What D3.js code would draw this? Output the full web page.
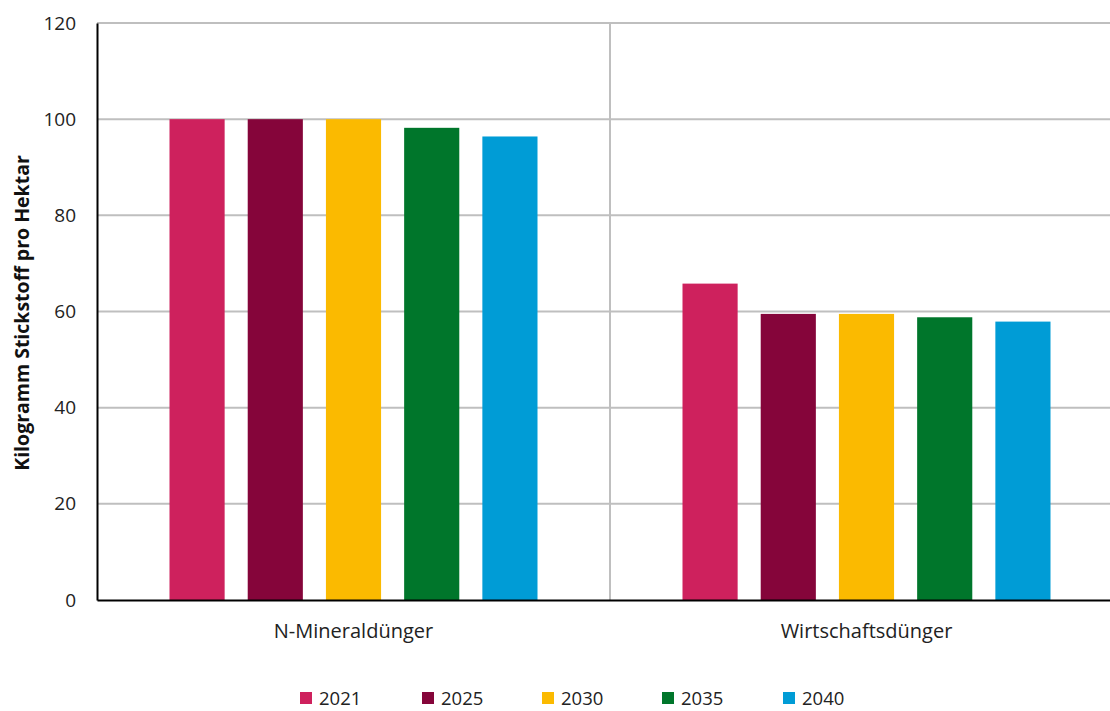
<!DOCTYPE html>
<html><head><meta charset="utf-8">
<script src="https://cdn.jsdelivr.net/npm/d3@7"></script>
<style>body{margin:0;background:#fff;} svg{display:block;font-family:"Open Sans","Noto Sans",sans-serif;}</style>
</head><body><svg id="c" width="1110" height="711"></svg>
<script>
const categories = ["N-Mineraldünger", "Wirtschaftsdünger"];
const years = ["2021", "2025", "2030", "2035", "2040"];
const values2021 = [100, 65.8];
const values2025 = [100, 59.5];
const values2030 = [100, 59.5];
const values2035 = [98.2, 58.8];
const values2040 = [96.4, 57.9];
const yTicks = [0, 20, 40, 60, 80, 100, 120];
const colors = ["#CE215D", "#85053A", "#FBBA00", "#00762B", "#009CD6"];
const yLabel = "Kilogramm Stickstoff  pro Hektar";

const seriesValues = [values2021, values2025, values2030, values2035, values2040];
const svg = d3.select("#c");
const m = {l: 97, t: 23, r: 1123, b: 600};
const x0 = d3.scaleBand().domain(categories).range([m.l, m.r]).paddingInner(0).paddingOuter(0);
const x1 = d3.scaleBand().domain(years).range([72.5, 440.5]).paddingInner(0.295).paddingOuter(0);
const y = d3.scaleLinear().domain([0, 120]).range([m.b, m.t]);

// gridlines
svg.append("g").selectAll("line").data(yTicks.filter(d => d > 0)).join("line")
  .attr("x1", m.l).attr("x2", m.r).attr("y1", d => y(d)).attr("y2", d => y(d))
  .attr("stroke", "#BFBFBF").attr("stroke-width", 2);
// category separator
svg.append("line").attr("x1", x0.range()[0] + x0.bandwidth()).attr("x2", x0.range()[0] + x0.bandwidth())
  .attr("y1", y(120)).attr("y2", y(0)).attr("stroke", "#BFBFBF").attr("stroke-width", 2);

// bars
const g = svg.append("g");
categories.forEach((c, ci) => {
  years.forEach((yr, si) => {
    const v = seriesValues[si][ci];
    g.append("rect").attr("x", x0(c) + x1(yr)).attr("width", x1.bandwidth())
      .attr("y", y(v)).attr("height", y(0) - y(v)).attr("fill", colors[si]);
  });
});

// axes
const yAxis = d3.axisLeft(y).tickValues(yTicks).tickSize(0).tickPadding(21);
const ya = svg.append("g").attr("transform", `translate(${m.l},0)`).call(yAxis);
ya.select(".domain").attr("stroke", "#000").attr("stroke-width", 2);
ya.selectAll("text").attr("font-size", 19).attr("fill", "#222").attr("font-family", "Open Sans");

const xAxis = d3.axisBottom(x0).tickSize(0).tickPadding(24);
const xa = svg.append("g").attr("transform", `translate(0,${m.b})`).call(xAxis);
xa.select(".domain").attr("stroke", "#000").attr("stroke-width", 2);
xa.selectAll("text").attr("font-size", 20).attr("fill", "#222").attr("font-family", "Open Sans");

// y label
svg.append("text").attr("transform", "translate(29,313) rotate(-90)").attr("text-anchor", "middle")
  .attr("font-size", 19.5).attr("font-weight", "bold").attr("fill", "#111").text(yLabel);

// legend
const legendX = [300, 422, 542, 662, 783];
const lg = svg.append("g");
years.forEach((yr, i) => {
  lg.append("rect").attr("x", legendX[i]).attr("y", 692).attr("width", 12).attr("height", 12).attr("fill", colors[i]);
  lg.append("text").attr("x", legendX[i] + 19).attr("y", 705).attr("font-size", 18.5).attr("fill", "#222").text(yr);
});
</script></body></html>
